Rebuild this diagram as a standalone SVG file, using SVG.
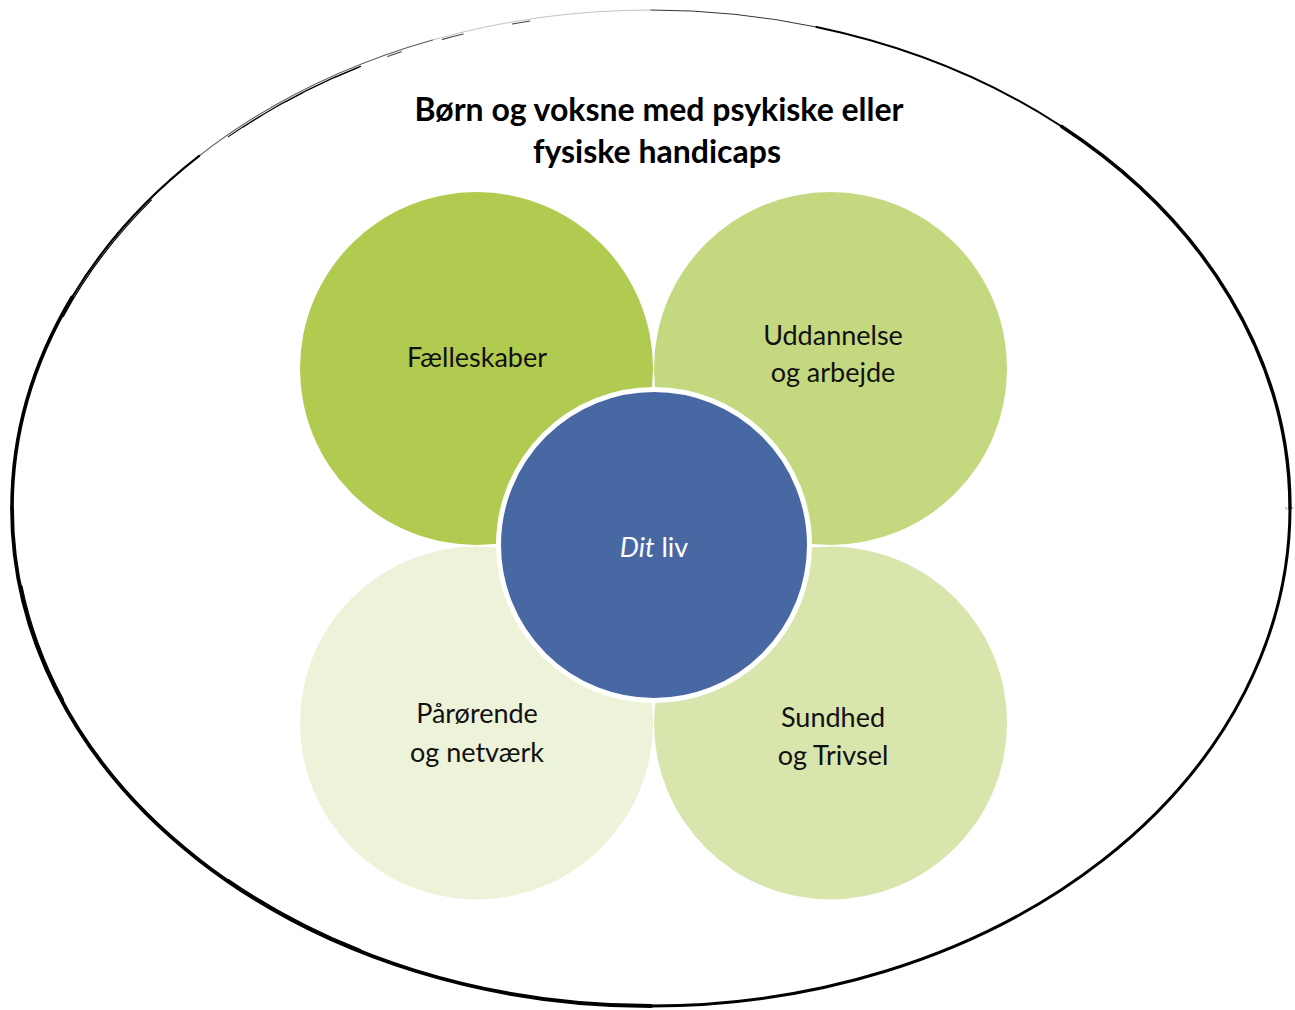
<svg xmlns="http://www.w3.org/2000/svg" width="1295" height="1010" viewBox="0 0 1295 1010">
  <style>
    .frame { fill: none; stroke: #000; stroke-linecap: round; }
    .title { font-family: Lato, "Liberation Sans", sans-serif; font-weight: bold; font-size: 32px; fill: #000; text-anchor: middle; }
    .label { font-family: Lato, "Liberation Sans", sans-serif; font-size: 27px; fill: #111; text-anchor: middle; }
    .core { font-family: Lato, "Liberation Sans", sans-serif; font-size: 27px; fill: #fff; text-anchor: middle; }
  </style>

  <rect width="1295" height="1010" fill="#fff"/>

  <!-- hand-drawn outer ellipse: cx 651, cy 508, rx 639, ry 498 -->
  <g id="frame">
    <!-- left to top, fading out -->
    <path class="frame" stroke-width="3.6" d="M 12 508 A 639 498 0 0 1 71.9 297.5"/>
    <path class="frame" stroke-width="2.2" d="M 71.9 297.5 A 639 498 0 0 1 199.2 155.9"/>
    <path class="frame" stroke-width="1.1" stroke-opacity="0.65" d="M 199.2 155.9 A 639 498 0 0 1 432.5 40"/>
    <path class="frame" stroke-width="0.8" stroke-opacity="0.3" d="M 432.5 40 A 639 498 0 0 1 651 10"/>
    <!-- top to right, thickening -->
    <path class="frame" stroke-width="1" stroke-opacity="0.8" d="M 651 10 A 639 498 0 0 1 816.4 27"/>
    <path class="frame" stroke-width="2" d="M 816.4 27 A 639 498 0 0 1 1061.7 126.5"/>
    <path class="frame" stroke-width="3.4" d="M 1061.7 126.5 A 639 498 0 0 1 1290 508"/>
    <!-- right to bottom to left -->
    <path class="frame" stroke-width="3" d="M 1290 508 A 639 498 0 0 1 651 1006"/>
    <path class="frame" stroke-width="3.8" d="M 651 1006 A 639 498 0 0 1 12 508"/>
    <!-- loose extra pen strokes hugging the outline -->
    <ellipse class="frame" cx="650" cy="508" rx="636" ry="496" pathLength="1000"
             stroke-width="1.2" stroke-dasharray="0 333 42 69 34 78 41 28 42 333"/>
    <ellipse class="frame" cx="652" cy="508" rx="641" ry="499" pathLength="1000"
             stroke-width="0.9" stroke-dasharray="0 389 28 97 28 458"/>
    <ellipse class="frame" cx="651" cy="509" rx="637" ry="497" pathLength="1000"
             stroke-width="1.1" stroke-opacity="0.75" stroke-dasharray="0 630 6 8 5 10 7 9 4 12 6 14 5 290"/>
  </g>

  <!-- title -->
  <g id="title">
    <text class="title" x="659" y="121">Børn og voksne med psykiske eller</text>
    <text class="title" x="657" y="163">fysiske handicaps</text>
  </g>

  <!-- four life areas -->
  <g id="node-faelleskaber">
    <circle cx="476.5" cy="368.5" r="176.5" fill="#B0CB4F"/>
    <text class="label" x="477" y="367">Fælleskaber</text>
  </g>
  <g id="node-uddannelse">
    <circle cx="830.5" cy="368.5" r="176.5" fill="#C4D97F"/>
    <text class="label" x="833" y="345">Uddannelse</text>
    <text class="label" x="833" y="382">og arbejde</text>
  </g>
  <g id="node-paaroerende">
    <circle cx="476.5" cy="723" r="176.5" fill="#ECF3D9"/>
    <text class="label" x="477" y="723">Pårørende</text>
    <text class="label" x="477" y="762">og netværk</text>
  </g>
  <g id="node-sundhed">
    <circle cx="830.5" cy="723" r="176.5" fill="#D8E5AC"/>
    <text class="label" x="833" y="727">Sundhed</text>
    <text class="label" x="833" y="765">og Trivsel</text>
  </g>

  <!-- centre -->
  <g id="node-dit-liv">
    <circle cx="654" cy="545" r="155.5" fill="#4868A4" stroke="#fff" stroke-width="5"/>
    <text class="core" x="654" y="557"><tspan font-style="italic">Dit</tspan> liv</text>
  </g>

  <g id="connectors"/>
</svg>
